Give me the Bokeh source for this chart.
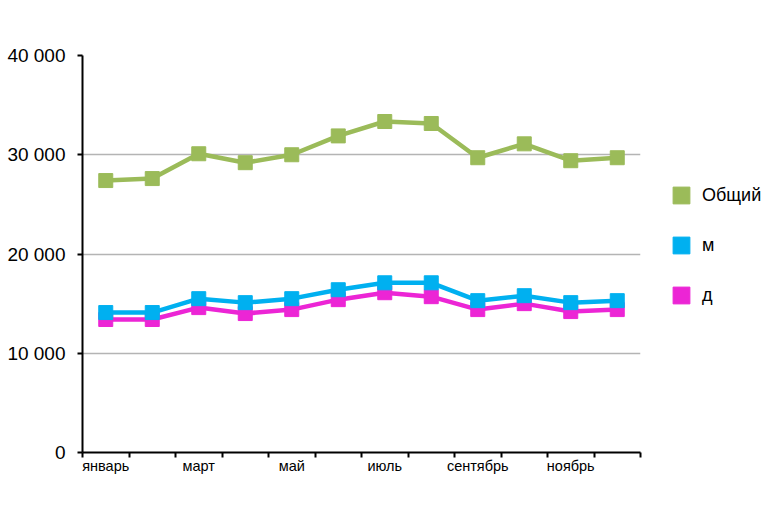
from bokeh.plotting import figure
from bokeh.models import FixedTicker, Legend, LegendItem, ColumnDataSource, Range1d
from bokeh.embed import file_html
from bokeh.resources import INLINE

months = ["январь", "февраль", "март", "апрель", "май", "июнь",
          "июль", "август", "сентябрь", "октябрь", "ноябрь", "декабрь"]
total = [27400, 27600, 30100, 29200, 30000, 31900, 33350, 33150, 29700, 31100, 29400, 29700]
m_vals = [14100, 14100, 15500, 15100, 15500, 16400, 17100, 17100, 15300, 15800, 15100, 15300]
d_vals = [13400, 13400, 14600, 14000, 14400, 15400, 16100, 15700, 14400, 15000, 14200, 14400]
y_ticks = [0, 10000, 20000, 30000, 40000]
y_labels = ["0", "10 000", "20 000", "30 000", "40 000"]

xs = [i + 0.5 for i in range(len(months))]

p = figure(width=754, height=497, output_backend="svg", toolbar_location=None,
           x_range=Range1d(0, 12), y_range=Range1d(0, 40000),
           frame_width=558, frame_height=397,
           min_border_left=82, min_border_top=55, min_border_right=10, min_border_bottom=45)
p.outline_line_color = None
p.background_fill_color = "white"

# x axis
label_pos = [xs[i] for i in range(0, 12, 2)]
p.xaxis.ticker = FixedTicker(ticks=label_pos, minor_ticks=list(range(0, 13)))
p.xaxis.major_label_overrides = {xs[i]: months[i] for i in range(0, 12, 2)}
p.xaxis.major_tick_out = 0
p.xaxis.major_tick_in = 0
p.xaxis.minor_tick_out = 5
p.xaxis.minor_tick_in = 0
p.xaxis.minor_tick_line_color = "black"
p.xaxis.minor_tick_line_width = 2
p.xaxis.axis_line_color = "black"
p.xaxis.axis_line_width = 2
p.xaxis.major_label_text_font = "Liberation Sans"
p.xaxis.major_label_text_font_size = "14.5px"
p.xaxis.major_label_text_color = "black"
p.xaxis.major_label_standoff = 0

# y axis
p.yaxis.ticker = FixedTicker(ticks=y_ticks, minor_ticks=[])
p.yaxis.major_label_overrides = {t: l for t, l in zip(y_ticks, y_labels)}
p.yaxis.major_tick_out = 5
p.yaxis.major_tick_in = 0
p.yaxis.major_tick_line_width = 2
p.yaxis.major_tick_line_color = "black"
p.yaxis.axis_line_color = "black"
p.yaxis.axis_line_width = 2
p.yaxis.major_label_text_font = "Liberation Sans"
p.yaxis.major_label_text_font_size = "19px"
p.yaxis.major_label_text_color = "black"
p.yaxis.major_label_standoff = 12

p.xgrid.grid_line_color = None
p.ygrid.ticker = FixedTicker(ticks=y_ticks)
p.ygrid.grid_line_color = "#b4b4b4"
p.ygrid.grid_line_width = 1.5

series = [("д", d_vals, "#EC25D5"), ("м", m_vals, "#00B0F0"), ("Общий", total, "#9BBB59")]
marker_r = {}
for name, vals, col in series:
    src = ColumnDataSource(dict(x=xs, y=vals))
    p.line("x", "y", source=src, line_color=col, line_width=4.5)
    marker_r[name] = p.scatter("x", "y", source=src, marker="square", size=14,
                               fill_color=col, line_color=col)

legend = Legend(items=[LegendItem(label="Общий", renderers=[marker_r["Общий"]]),
                       LegendItem(label="м", renderers=[marker_r["м"]]),
                       LegendItem(label="д", renderers=[marker_r["д"]])],
                location=(20, 136), orientation="vertical",
                glyph_width=42, glyph_height=42, spacing=8, padding=0, margin=0,
                label_standoff=-2, border_line_color=None, background_fill_alpha=0,
                label_text_font="Liberation Sans", label_text_font_size="18px",
                label_text_color="black")
p.add_layout(legend, "right")

open("out.html", "w").write(file_html(p, INLINE))
